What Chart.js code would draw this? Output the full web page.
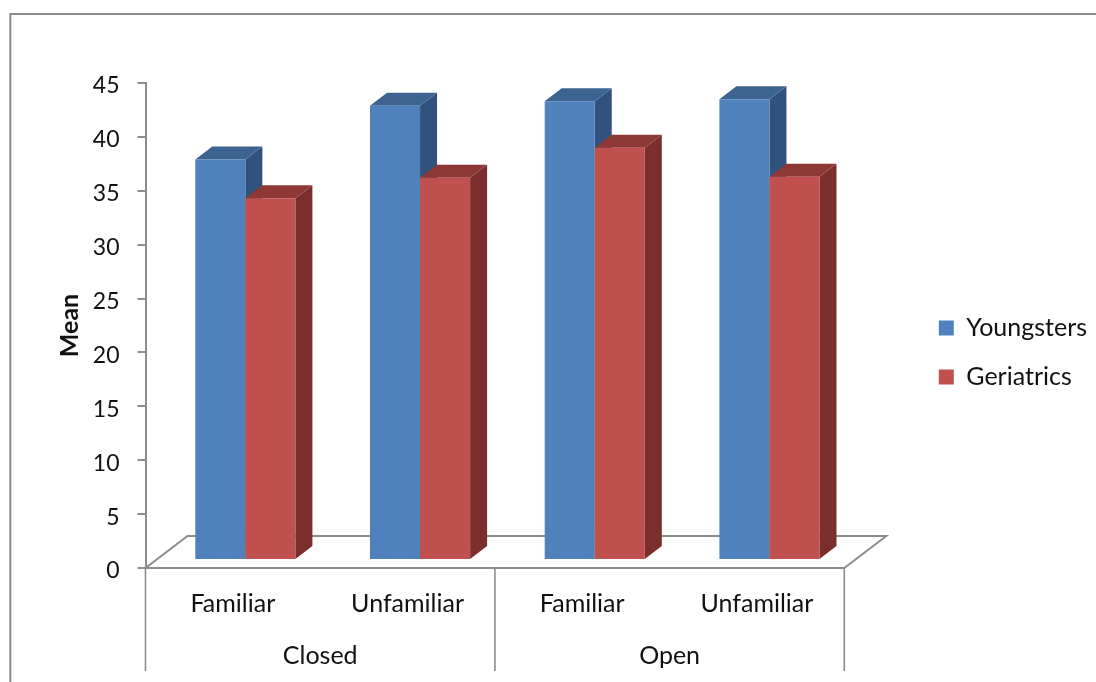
<!DOCTYPE html>
<html>
<head>
<meta charset="utf-8">
<style>html,body{margin:0;padding:0;background:#fff}canvas{display:block}</style>
<script src="https://cdn.jsdelivr.net/npm/chart.js@4/dist/chart.umd.js"></script>
</head>
<body>
<canvas id="c" width="1096" height="682"></canvas>
<script>
const conditions = ['Familiar', 'Unfamiliar', 'Familiar', 'Unfamiliar'];
const settings = ['Closed', 'Open'];
const youngsters = [37.9, 42.9, 43.3, 43.5];
const geriatrics = [34.3, 36.2, 39.0, 36.3];
const yTicksStep = 5;
const yMax = 45;
const floorLevel = 0.83;

const FONT = 'Lato, Carlito, sans-serif';
const AXIS = '#8c8c8c';
const INK = '#111';
const palette = [
  { front: '#4f81bd', side: '#30527c', top: '#3d6390' },
  { front: '#c0504d', side: '#7b2f2d', top: '#8e3836' }
];
const DEPTH = { dx: 17, dy: -13 };
const FLOOR = { dx: 42, dy: -32 };
const BAR_SHIFT = 12.5;
const LEGEND_SHIFT = { x: 70.5, y: -30 };
const Y_LABEL_DROP = 3;

function poly(ctx, pts, fill) {
  ctx.beginPath();
  pts.forEach((p, i) => i ? ctx.lineTo(p[0], p[1]) : ctx.moveTo(p[0], p[1]));
  ctx.closePath();
  if (fill) { ctx.fillStyle = fill; ctx.fill(); }
}

// Frame, floor plane, hierarchical separators and extruded bars
const extrude = {
  id: 'extrude',
  beforeDraw(chart) {
    const { ctx, width, height } = chart;
    ctx.save();
    ctx.strokeStyle = AXIS;
    ctx.lineWidth = 2;
    ctx.beginPath();
    ctx.moveTo(10.3, height);
    ctx.lineTo(10.3, 14);
    ctx.lineTo(width, 14);
    ctx.stroke();
    ctx.restore();
    // Value labels sit slightly below their tick marks
    chart.scales.y.getLabelItems().forEach(item => {
      if (!item.dropped) {
        item.options.translation = [item.options.translation[0], item.options.translation[1] + Y_LABEL_DROP];
        item.dropped = true;
      }
    });
  },
  beforeDatasetsDraw(chart) {
    const { ctx, chartArea: a } = chart;
    ctx.save();
    ctx.strokeStyle = AXIS;
    ctx.lineWidth = 2;
    ctx.beginPath();
    ctx.moveTo(a.left, a.bottom);
    ctx.lineTo(a.left + FLOOR.dx, a.bottom + FLOOR.dy);
    ctx.lineTo(a.right + FLOOR.dx, a.bottom + FLOOR.dy);
    ctx.lineTo(a.right, a.bottom);
    ctx.stroke();
    ctx.lineWidth = 1.6;
    ctx.beginPath();
    [a.left, (a.left + a.right) / 2, a.right].forEach(x => {
      ctx.moveTo(x, a.bottom);
      ctx.lineTo(x, chart.height - 11);
    });
    ctx.stroke();
    ctx.restore();

    ctx.save();
    ctx.translate(BAR_SHIFT, 0);
    chart.data.datasets.forEach((ds, i) => {
      const c = palette[i];
      chart.getDatasetMeta(i).data.forEach(bar => {
        const p = bar.getProps(['x', 'y', 'base', 'width']);
        const l = p.x - p.width / 2, r = p.x + p.width / 2;
        poly(ctx, [[r, p.y], [r + DEPTH.dx, p.y + DEPTH.dy], [r + DEPTH.dx, p.base + DEPTH.dy], [r, p.base]], c.side);
        poly(ctx, [[l, p.y], [l + DEPTH.dx, p.y + DEPTH.dy], [r + DEPTH.dx, p.y + DEPTH.dy], [r, p.y]], c.top);
        bar.draw(ctx);
      });
    });
    ctx.restore();
  },
  // Bars are painted above, in series order, so the nearer series covers the side faces
  beforeDatasetDraw() { return false; },
  afterLayout(chart) {
    const lg = chart.legend;
    lg.left += LEGEND_SHIFT.x;
    lg.right += LEGEND_SHIFT.x;
    lg.top += LEGEND_SHIFT.y;
    lg.bottom += LEGEND_SHIFT.y;
  }
};

new Chart(document.getElementById('c'), {
  type: 'bar',
  data: {
    labels: conditions,
    datasets: [
      { label: 'Youngsters', data: youngsters, backgroundColor: palette[0].front, base: floorLevel },
      { label: 'Geriatrics', data: geriatrics, backgroundColor: palette[1].front, base: floorLevel }
    ]
  },
  options: {
    responsive: false,
    animation: false,
    devicePixelRatio: 1,
    layout: { padding: { top: 83, left: 55, right: 69.5, bottom: 0 } },
    datasets: { bar: { categoryPercentage: 0.573, barPercentage: 1 } },
    plugins: {
      tooltip: { enabled: false },
      title: { display: false },
      legend: {
        position: 'right',
        labels: {
          boxWidth: 15, boxHeight: 15, padding: 24,
          color: INK, font: { family: FONT, size: 25 }
        }
      }
    },
    scales: {
      x: {
        position: 'bottom',
        grid: { display: false },
        border: { display: true, color: AXIS, width: 2 },
        ticks: { color: INK, font: { family: FONT, size: 25 }, padding: 13, maxRotation: 0, autoSkip: false },
        afterFit(s) { s.height = 52; }
      },
      x2: {
        type: 'category',
        labels: settings,
        position: 'bottom',
        grid: { display: false },
        border: { display: false },
        ticks: { color: INK, font: { family: FONT, size: 25 }, padding: 13, maxRotation: 0 },
        afterFit(s) { s.height = 62; }
      },
      y: {
        min: 0,
        max: yMax,
        grid: { drawOnChartArea: false, color: AXIS, lineWidth: 2, tickLength: 8 },
        border: { display: true, color: AXIS, width: 2 },
        ticks: { stepSize: yTicksStep, color: INK, padding: 18, font: { family: FONT, size: 23 } },
        title: { display: true, text: 'Mean', color: INK, padding: 0, font: { family: FONT, size: 25, weight: 'bold' } },
        afterFit(s) { s.width = 90.5; }
      }
    }
  },
  plugins: [extrude]
});
</script>
</body>
</html>
